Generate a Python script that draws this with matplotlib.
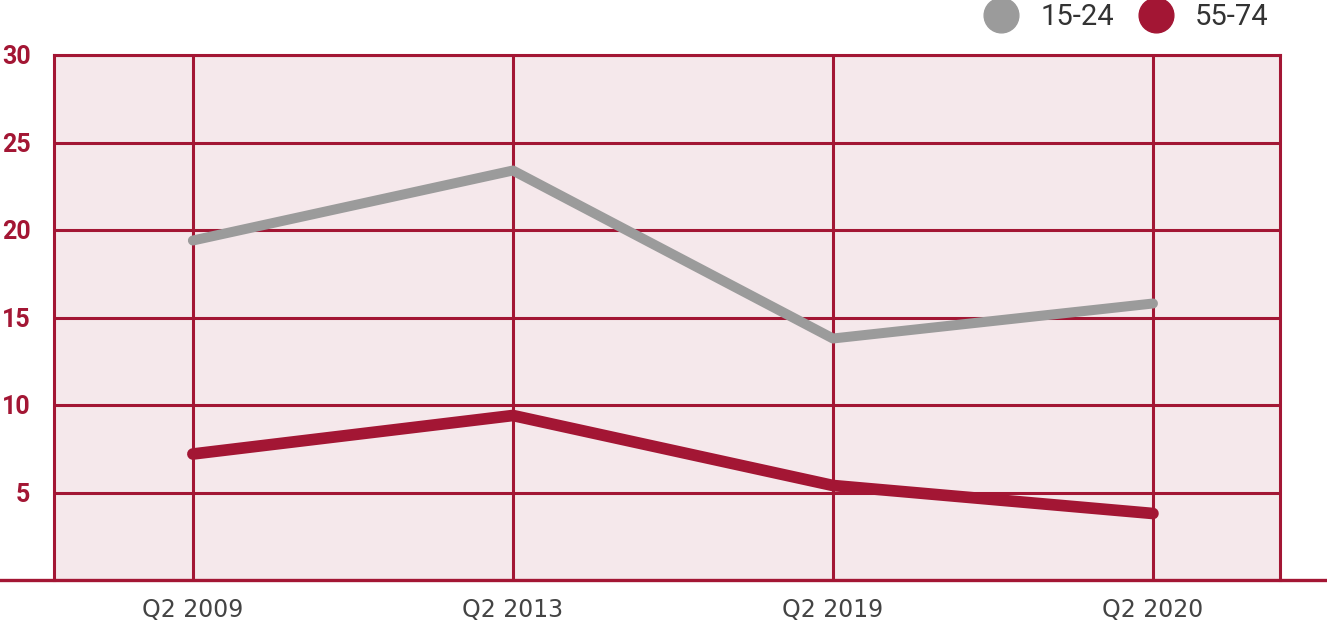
import matplotlib
matplotlib.use("Agg")
import matplotlib.pyplot as plt
from matplotlib.lines import Line2D
import matplotlib.transforms as mtransforms

categories = ["Q2 2009", "Q2 2013", "Q2 2019", "Q2 2020"]
series_15_24 = [19.4, 23.4, 13.8, 15.8]
series_55_74 = [7.2, 9.4, 5.4, 3.8]
yticks = [5, 10, 15, 20, 25, 30]
labels = ["15-24", "55-74"]

RED = "#A31634"
GRAY = "#9B9B9B"
BG = "#F5E8EB"

fig = plt.figure(figsize=(13.27, 6.2), dpi=100)
ax = fig.add_axes([54/1327, 1-580/620, (1280-54)/1327, (580-55)/620])
ax.set_facecolor(BG)

x = list(range(len(categories)))
ax.plot(x, series_15_24, color=GRAY, lw=7.2, solid_capstyle="round", zorder=3)
ax.plot(x, series_55_74, color=RED, lw=8.4, solid_capstyle="round", zorder=3)

ax.set_xlim(-0.434, 3.397)
ax.set_ylim(0, 30)
ax.set_xticks(x)
ax.set_xticklabels(categories, fontsize=17, color="#444444", family="DejaVu Sans")
ax.set_yticks(yticks)
ax.set_yticklabels([str(v) for v in yticks], fontsize=18, color=RED, fontweight="bold", family="Roboto")
ax.tick_params(axis="both", length=0)
ax.tick_params(axis="y", pad=17)
ax.tick_params(axis="x", pad=13)

ax.grid(True, color=RED, lw=2.2, zorder=1)
ax.set_axisbelow(True)
for s in ["left", "right", "top"]:
    ax.spines[s].set_color(RED)
    ax.spines[s].set_linewidth(2.2)
ax.spines["bottom"].set_visible(False)

trans = mtransforms.blended_transform_factory(fig.transFigure, ax.transData)
fig.add_artist(Line2D([0, 1], [0, 0], transform=trans, color=RED, lw=2.4, zorder=5))

handles = [Line2D([], [], marker="o", ls="", markersize=25, color=GRAY),
           Line2D([], [], marker="o", ls="", markersize=25, color=RED)]
fig.legend(handles, labels, loc="center left", bbox_to_anchor=(983.5/1327, 1-17/620), ncol=2,
           frameon=False, borderpad=0, borderaxespad=0,
           prop={"family": "Roboto", "size": 21},
           handlelength=1.2, handletextpad=0.74, columnspacing=0.84,
           labelcolor="#333333")

fig.savefig("out.png", dpi=100)
